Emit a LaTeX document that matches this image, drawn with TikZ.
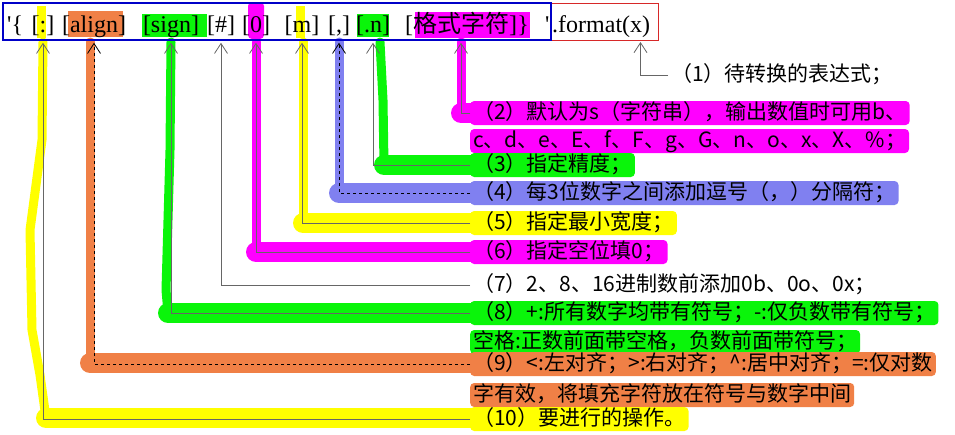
\documentclass[tikz,border=0pt]{standalone}
\usepackage{fontspec}
\setmainfont{Liberation Serif}
\newfontfamily\cjk{Noto Sans CJK SC}
\usetikzlibrary{arrows.meta,positioning}
\definecolor{hlyellow}{RGB}{255,255,0}
\definecolor{hlorange}{RGB}{240,128,70}
\definecolor{hlgreen}{RGB}{10,245,10}
\definecolor{hlpink}{RGB}{255,0,255}
\definecolor{hlblue}{RGB}{128,128,240}
\definecolor{boxblue}{RGB}{0,0,200}
\definecolor{boxred}{RGB}{215,40,40}
\begin{document}
\begin{tikzpicture}[x=1pt, y=-1pt,
    field/.style={anchor=base, inner sep=0pt, font=\fontsize{24}{28}\selectfont},
    lbl/.style={anchor=west, inner xsep=3pt, inner ysep=2pt, text height=16pt, text depth=4pt,
        rounded corners=4pt, font=\cjk\fontsize{21}{24}\selectfont},
    conn/.style={draw=black!60, line width=0.8pt, shorten >=1.5pt,
        -{Straight Barb[length=10pt,width=13pt]}},
    hl/.style={line width=9pt, line cap=round, line join=round},
    band/.style={line width=20pt, line cap=round}]
    \useasboundingbox (0,0) rectangle (955,434);
    \fill[white] (0,0) rectangle (955,434);
    % marker strokes
    \fill[hlyellow] (37,6) rectangle (46,38);
    \fill[hlorange] (68,11) rectangle (123,37);
    \fill[hlgreen] (142,14) rectangle (207,37);
    \fill[hlpink, rounded corners=4pt] (248,2) rectangle (264,39);
    \fill[hlyellow] (296,6) rectangle (305,38);
    \fill[hlgreen] (357,14) rectangle (389,37);
    \fill[hlpink] (415,12) rectangle (530,38);
    \foreach \x/\y/\col in {90/363/hlorange, 256/252/hlpink, 303/223/hlyellow, 339/193/hlblue, 461/113/hlpink} {
        \draw[hl, \col] (\x,42) -- (\x,\y);
        \draw[band, \col] (\x,\y) -- (472,\y);
    }
    \draw[hl, hlgreen] (380,42) -- (383,100) -- (384,165);
    \draw[band, hlgreen] (384,165) -- (472,165);
    \draw[hl, hlgreen] (171,42) -- (170,150) -- (166,290) -- (168,313);
    \draw[band, hlgreen] (168,313) -- (472,313);
    \draw[hl, hlyellow] (43,42) -- (42,140) -- (30,230) -- (32,330) -- (40,375) -- (46,418);
    \draw[band, hlyellow] (46,418) -- (472,418);
    % expression
    \node[draw=boxred, line width=1pt, minimum width=107pt, minimum height=37pt] (fmt) at (604.5,21.5) {};
    \node[draw=boxblue, line width=2.5pt, minimum width=548pt, minimum height=37pt] (expr) at (277,21.5) {};
    \node[field, anchor=base west] (q0) at (7,32) {\textquotesingle\{};
    \node[field] (f-fill) at (43,32) {[:]};
    \node[field] (f-align) at (94,32) {[align]};
    \node[field] (f-sign) at (171,32) {[sign]};
    \node[field] (f-hash) at (221,32) {[\#]};
    \node[field] (f-zero) at (256,32) {[0]};
    \node[field] (f-width) at (302,32) {[m]};
    \node[field] (f-comma) at (339,32) {[,]};
    \node[field] (f-prec) at (373,32) {[.n]};
    \node[field] (f-type) at (461,32) {[{\cjk 格式字符}]};
    \node[field, anchor=base west] (q1) at (f-type.base east) {\}};
    \node[field, anchor=base west] (q2) at (545,32) {\textquotesingle};
    \node[field, anchor=base west] (f-fmt) at (552,32) {.format(x)};
    % descriptions
    \node[lbl] (t1) at (668,75) {（1）待转换的表达式；};
    \node[lbl, fill=hlpink] (t2a) at (470,113) {（2）默认为s（字符串），输出数值时可用b、};
    \node[lbl, fill=hlpink] (t2b) at (470,141) {c、d、e、E、f、F、g、G、n、o、x、X、\%；};
    \node[lbl, fill=hlgreen] (t3) at (470,165) {（3）指定精度；};
    \node[lbl, fill=hlblue] (t4) at (470,193) {（4）每3位数字之间添加逗号（，）分隔符；};
    \node[lbl, fill=hlyellow] (t5) at (470,223) {（5）指定最小宽度；};
    \node[lbl, fill=hlpink] (t6) at (470,252) {（6）指定空位填0；};
    \node[lbl] (t7) at (470,285) {（7）2、8、16进制数前添加0b、0o、0x；};
    \node[lbl, fill=hlgreen] (t8a) at (470,313) {（8）+:所有数字均带有符号；-:仅负数带有符号；};
    \node[lbl, fill=hlgreen] (t8b) at (470,342) {空格:正数前面带空格，负数前面带符号；};
    \node[lbl, fill=hlorange] (t9a) at (470,364) {（9）<:左对齐；>:右对齐；\textasciicircum:居中对齐；=:仅对数};
    \node[lbl, fill=hlorange] (t9b) at (470,395) {字有效，将填充字符放在符号与数字中间};
    \node[lbl, fill=hlyellow] (t10) at (470,419) {（10）要进行的操作。};
    % pointers
    \draw[conn] (t1.west) -| ([xshift=36pt]fmt.south);
    \foreach \t/\f in {t2a/f-type, t3/f-prec, t5/f-width, t6/f-zero, t7/f-hash, t8a/f-sign, t10/f-fill}
        \draw[conn] (\t.west) -| (\f |- expr.south);
    \foreach \t/\f in {t4/f-comma, t9a/f-align}
        \draw[conn, dashed, draw=black] (\t.west) -| (\f |- expr.south);
\end{tikzpicture}
\end{document}
